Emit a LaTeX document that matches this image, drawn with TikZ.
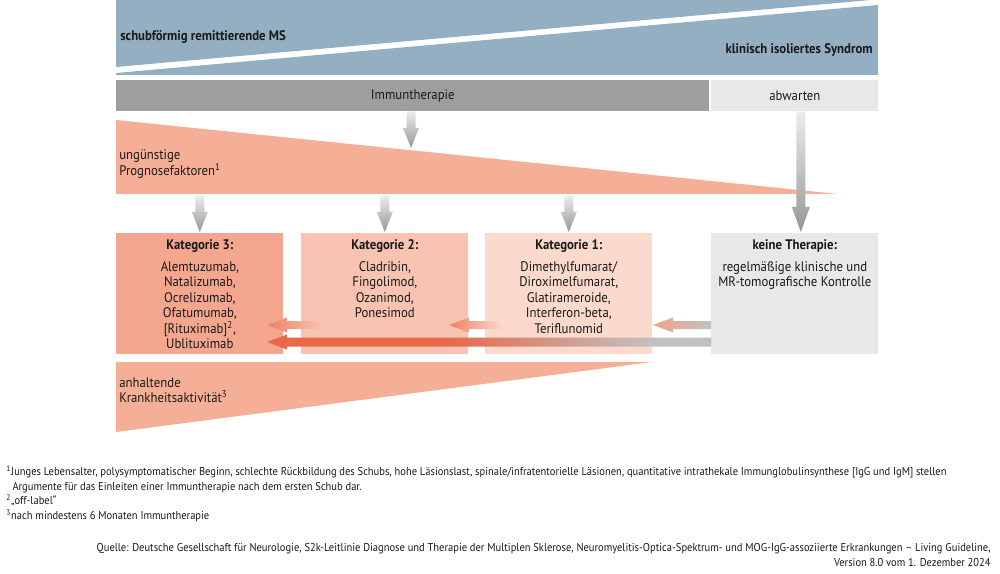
\documentclass[tikz,border=0pt]{standalone}
\usepackage{fontspec}
\setmainfont{PT Sans}[FakeStretch=0.92]
\usepackage{xcolor}
\usepackage{tikz}
\usetikzlibrary{calc}
\definecolor{MSBlue}{RGB}{148,175,193}
\definecolor{ImmGray}{RGB}{158,158,158}
\definecolor{WaitGray}{RGB}{232,232,232}
\definecolor{Salmon}{RGB}{245,175,150}
\definecolor{KatThree}{RGB}{244,167,142}
\definecolor{KatTwo}{RGB}{248,196,177}
\definecolor{KatOne}{RGB}{251,217,205}
\definecolor{ArrRed}{RGB}{232,104,74}
\definecolor{ArrSalmon}{RGB}{238,128,100}
\definecolor{ArrLight}{RGB}{243,162,134}
\definecolor{ArrTop}{RGB}{236,236,236}
\definecolor{ArrBot}{RGB}{150,150,150}
\definecolor{ArrGray}{RGB}{192,192,192}
\definecolor{Ink}{RGB}{25,25,25}
\pgfdeclarehorizontalshading{longshade}{100bp}{color(0bp)=(ArrRed); color(25bp)=(ArrRed);
  color(45bp)=(ArrRed); color(68bp)=(ArrGray); color(100bp)=(ArrGray)}
\newcommand{\boxfont}{\fontsize{7.9}{8.8}\selectfont}
\newcommand{\notefont}{\fontsize{6.5}{8.4}\selectfont}
% shaded arrows: start, tip, shaft half width, head half width, head length
\newcommand{\vArrow}[5]{%
  \shade[top color=ArrTop,bottom color=ArrBot]
    ($(#1)+(-#3,0)$) -- ($(#2)+(-#3,-#5)$) -- ($(#2)+(-#4,-#5)$) -- (#2)
    -- ($(#2)+(#4,-#5)$) -- ($(#2)+(#3,-#5)$) -- ($(#1)+(#3,0)$) -- cycle;}
\newcommand{\hArrow}[6]{%
  \shade[#6]
    ($(#1)+(0,-#3)$) -- ($(#2)+(#5,-#3)$) -- ($(#2)+(#5,-#4)$) -- (#2)
    -- ($(#2)+(#5,#4)$) -- ($(#2)+(#5,#3)$) -- ($(#1)+(0,#3)$) -- cycle;}

\begin{document}
\begin{tikzpicture}[x=0.02cm,y=-0.02cm,text=Ink,
    bar/.style={anchor=north west,minimum height=0.62cm,inner sep=0pt,font=\boxfont},
    kat/.style={anchor=north west,minimum width=3.34cm,minimum height=2.42cm,inner sep=0pt},
    kattext/.style={anchor=north,align=center,inner sep=0pt,font=\boxfont},
    sidetext/.style={anchor=west,align=left,inner sep=0pt,font=\boxfont}]
  \useasboundingbox (0,0) rectangle (1000,574);

  % Verlaufsform
  \fill[MSBlue] (116,0) -- (871,0) -- (116,67) -- cycle;
  \fill[MSBlue] (116,73) -- (878,5) -- (878,75) -- (116,75) -- cycle;
  \node[sidetext,font=\boxfont\bfseries] (rrms) at (120,37) {schubförmig remittierende MS};
  \node[sidetext,anchor=east,font=\boxfont\bfseries] (kis) at (873,50) {klinisch isoliertes Syndrom};

  % Therapieentscheidung
  \node[bar,fill=ImmGray,minimum width=11.86cm] (immun) at (116,80) {Immuntherapie};
  \node[bar,fill=WaitGray,minimum width=3.34cm] (wait) at (711,80) {abwarten};

  % Keile
  \fill[Salmon] (116,120) -- (838,194) -- (116,194) -- cycle;
  \node[sidetext] (prog) at (119,164) {ungünstige\\Prognosefaktoren\textsuperscript{1}};
  \fill[Salmon] (116,362) -- (652,362) -- (116,432) -- cycle;
  \node[sidetext] (aktiv) at (119,390) {anhaltende\\Krankheitsaktivität\textsuperscript{3}};

  % Kategorien
  \node[kat,fill=KatThree] (k3) at (116,233) {};
  \node[kat,fill=KatTwo] (k2) at (301,233) {};
  \node[kat,fill=KatOne] (k1) at (485,233) {};
  \node[kat,fill=WaitGray] (none) at (711,233) {};
  \node[kattext] (k3t) at ($(k3.north)+(0,6)$) {\textbf{Kategorie 3:}\\[3.8pt]
    Alemtuzumab,\\Natalizumab,\\Ocrelizumab,\\Ofatumumab,\\{[Rituximab]}\textsuperscript{2},\\Ublituximab};
  \node[kattext] (k2t) at ($(k2.north)+(0,6)$) {\textbf{Kategorie 2:}\\[3.8pt]
    Cladribin,\\Fingolimod,\\Ozanimod,\\Ponesimod};
  \node[kattext] (k1t) at ($(k1.north)+(0,6)$) {\textbf{Kategorie 1:}\\[3.8pt]
    Dimethylfumarat/\\Diroximelfumarat,\\Glatirameroide,\\Interferon-beta,\\Teriflunomid};
  \node[kattext] (nonet) at ($(none.north)+(0,6)$) {\textbf{keine Therapie:}\\[3.8pt]
    regelmäßige klinische und\\MR-tomografische Kontrolle};

  % Pfeile
  \coordinate (immtip) at (411,148);
  \vArrow{immun.south -| immtip}{immtip}{4.5}{8}{20}
  \coordinate (waittop) at ($(wait.south)+(6,0)$);
  \coordinate (waittip) at ($(none.north)+(6,-1)$);
  \vArrow{waittop}{waittip}{4.5}{9}{25}
  \foreach \k in {k3,k2,k1}
    \vArrow{$(\k.north)+(0,-37)$}{$(\k.north)+(0,-1)$}{4.5}{8}{20};

  \coordinate (s1) at (711,325);  \coordinate (t1) at (653,325);
  \coordinate (s2) at (503,325);  \coordinate (t2) at (449,325);
  \coordinate (s3) at (322,325);  \coordinate (t3) at (267,325);
  \coordinate (sl) at (711,342);  \coordinate (tl) at (267,342);
  \hArrow{s1}{t1}{4}{7.5}{20}{left color=ArrLight,right color=ArrGray}
  \hArrow{s2}{t2}{4}{7.5}{20}{left color=ArrSalmon,right color=KatOne}
  \hArrow{s3}{t3}{4}{7.5}{20}{left color=ArrSalmon,right color=KatTwo}
  \hArrow{sl}{tl}{4.5}{7.5}{20}{shading=longshade}

  % Fussnoten und Quelle
  \node[anchor=north west,align=left,inner sep=0pt,font=\notefont] (notes) at (6,465)
    {\textsuperscript{1}Junges Lebensalter, polysymptomatischer Beginn, schlechte Rückbildung des Schubs, hohe Läsionslast, spinale/infratentorielle Läsionen, quantitative intrathekale Immunglobulinsynthese [IgG und IgM] stellen\\
     \hspace*{3.5pt}Argumente für das Einleiten einer Immuntherapie nach dem ersten Schub dar.\\
     \textsuperscript{2}„off-label“\\
     \textsuperscript{3}nach mindestens 6 Monaten Immuntherapie};
  \node[anchor=north east,align=right,inner sep=0pt,font=\notefont] (source) at (991,543)
    {Quelle: Deutsche Gesellschaft für Neurologie, S2k-Leitlinie Diagnose und Therapie der Multiplen Sklerose, Neuromyelitis-Optica-Spektrum- und MOG-IgG-assoziierte Erkrankungen – Living Guideline,\\
     Version 8.0 vom 1. Dezember 2024};
\end{tikzpicture}
\end{document}
